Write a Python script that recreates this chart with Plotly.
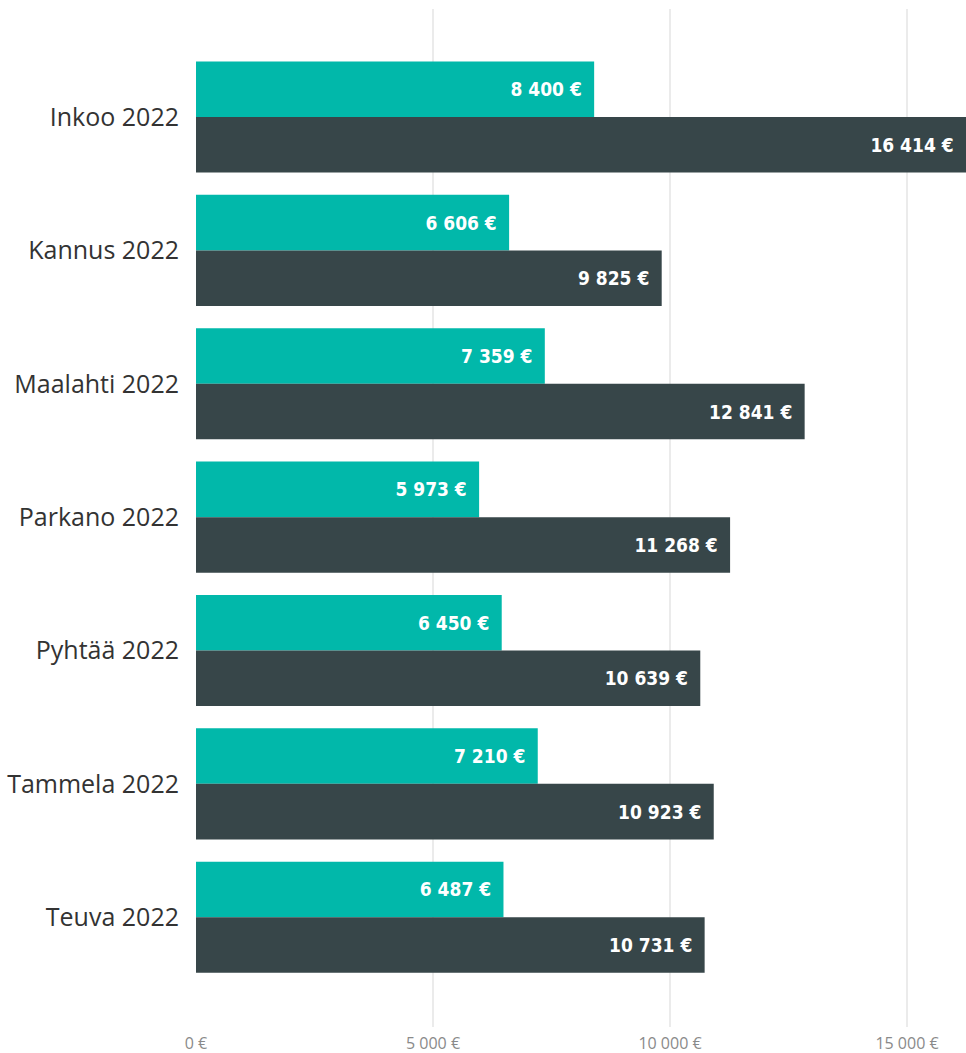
import plotly.graph_objects as go

categories = ["Inkoo 2022", "Kannus 2022", "Maalahti 2022", "Parkano 2022",
              "Pyhtää 2022", "Tammela 2022", "Teuva 2022"]
teal_values = [8400, 6606, 7359, 5973, 6450, 7210, 6487]
dark_values = [16414, 9825, 12841, 11268, 10639, 10923, 10731]
tick_values = [0, 5000, 10000, 15000]
tick_labels = ["0 €", "5 000 €", "10 000 €", "15 000 €"]

X_MAX = 16245  # visible axis extent (the longest bar runs past it and is cut off)


def fmt(v):
    return f"{v:,}".replace(",", " ") + " €" + "\u00A0\u2009"


def visible(vals):
    return [min(v, X_MAX) for v in vals]


label_font = dict(family="DejaVu Sans Condensed, Roboto, DejaVu Sans", size=19,
                  color="white", weight="bold")

fig = go.Figure()
fig.add_trace(go.Bar(
    y=categories, x=visible(teal_values), orientation="h", name="A",
    marker=dict(color="#01B8AA", line=dict(width=0)),
    text=[fmt(v) for v in teal_values], textposition="inside",
    insidetextanchor="end", textfont=label_font,
    customdata=teal_values, hovertemplate="%{y}: %{customdata}<extra></extra>",
))
fig.add_trace(go.Bar(
    y=categories, x=visible(dark_values), orientation="h", name="B",
    marker=dict(color="#374649", line=dict(width=0)),
    text=[fmt(v) for v in dark_values], textposition="inside",
    insidetextanchor="end", textfont=label_font,
    customdata=dark_values, hovertemplate="%{y}: %{customdata}<extra></extra>",
))

fig.update_layout(
    width=966, height=1053,
    margin=dict(l=196, r=0, t=9, b=26, autoexpand=False),
    plot_bgcolor="white", paper_bgcolor="white",
    barmode="group", bargap=0.167, bargroupgap=0,
    showlegend=False,
    uniformtext=dict(minsize=19, mode="show"),
    xaxis=dict(
        range=[0, X_MAX], tickvals=tick_values, ticktext=tick_labels,
        showgrid=True, gridcolor="#EBEBEB", gridwidth=2, automargin=False,
        zeroline=False, ticks="outside", ticklen=2, tickcolor="rgba(0,0,0,0)",
        showline=False,
        tickfont=dict(family="Liberation Sans Narrow, Open Sans", size=16, color="#8A8A8A"),
    ),
    yaxis=dict(
        categoryorder="array", categoryarray=categories, automargin=False,
        range=[6.823, -0.81], showgrid=False, zeroline=False,
        ticks="outside", ticklen=11, tickcolor="rgba(0,0,0,0)",
        tickfont=dict(family="Open Sans", size=25, color="#333333"),
    ),
)

fig.write_html(
    "out.html",
    config={"displayModeBar": False},
    post_script="document.body.style.margin='0';document.body.style.overflow='hidden';",
)
